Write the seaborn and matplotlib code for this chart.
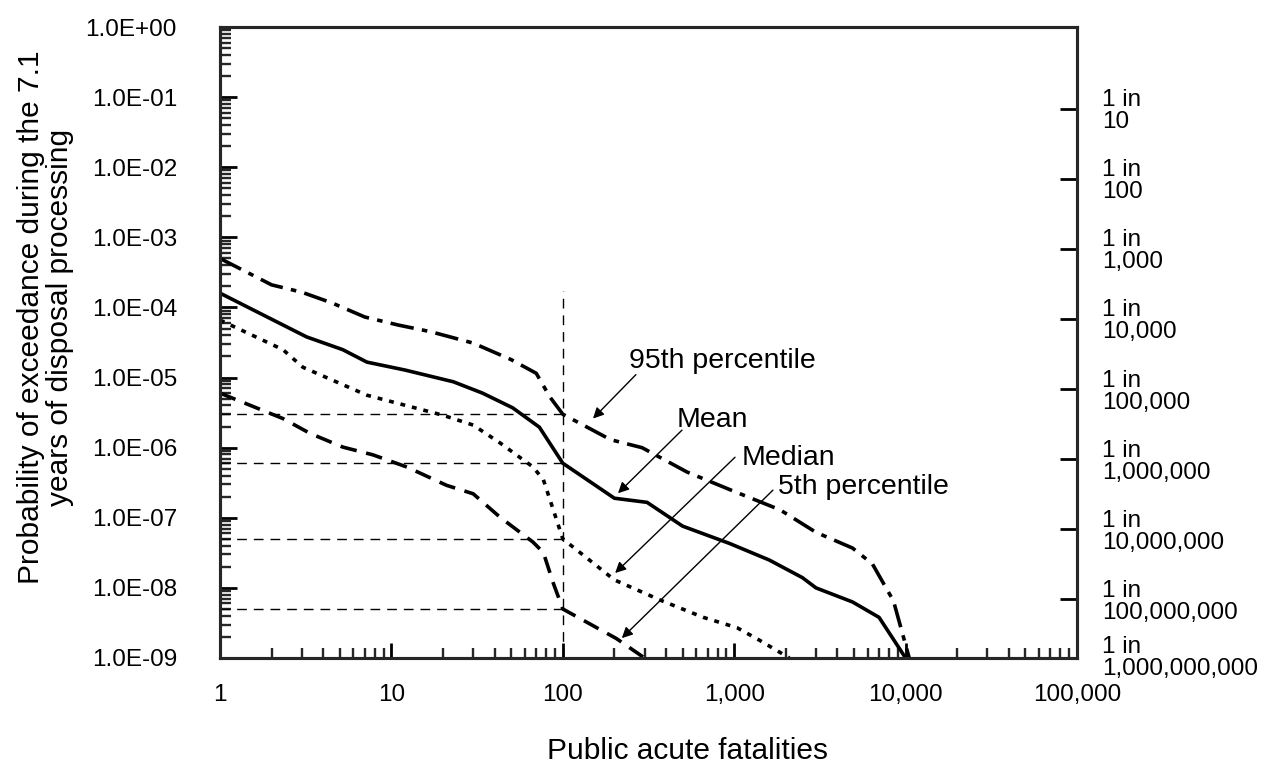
import numpy as np
import pandas as pd
import matplotlib
matplotlib.use("Agg")
import matplotlib.pyplot as plt
import matplotlib.ticker as mticker
import seaborn as sns

# ---------------- data ----------------
x95 = [1, 2, 3, 4.5, 7, 11, 17, 30, 50, 70, 84, 100, 190, 290, 530, 990, 1850, 3000, 4900, 6400, 8500, 10500]
y95 = [5e-4, 2.1e-4, 1.65e-4, 1.16e-4, 7.3e-5, 5.6e-5, 4.5e-5, 3.1e-5, 1.8e-5, 1.15e-5, 5.3e-6, 3e-6,
       1.3e-6, 1.0e-6, 4.5e-7, 2.4e-7, 1.3e-7, 6.2e-8, 3.7e-8, 2.2e-8, 6.5e-9, 1e-9]

x_mean = [1, 3.2, 5.2, 7.2, 12, 23, 34, 51, 73, 100, 200, 310, 500, 940, 1600, 2500, 3000, 4900, 7000, 10000]
y_mean = [1.6e-4, 3.8e-5, 2.5e-5, 1.66e-5, 1.28e-5, 8.7e-6, 6e-6, 3.7e-6, 1.96e-6, 6e-7, 1.9e-7, 1.66e-7,
          7.6e-8, 4.3e-8, 2.5e-8, 1.4e-8, 1e-8, 6.3e-9, 3.8e-9, 1e-9]

x_med = [1, 2.33, 3.05, 7.2, 20, 30, 43, 67, 77, 88, 100, 200, 370, 660, 1040, 1400, 2100]
y_med = [6.6e-5, 2.5e-5, 1.4e-5, 5.6e-6, 2.9e-6, 2.1e-6, 1.17e-6, 5.3e-7, 3.5e-7, 1.3e-7, 5e-8, 1.3e-8,
         6.7e-9, 3.8e-9, 2.7e-9, 1.8e-9, 1e-9]

x5 = [1, 2.33, 3.35, 5.2, 7.8, 12.3, 21, 30, 43, 67, 77, 88, 100, 205, 300]
y5 = [6e-6, 2.6e-6, 1.6e-6, 1.02e-6, 7.9e-7, 5.3e-7, 2.9e-7, 2.2e-7, 1.02e-7, 4.5e-8, 3.2e-8, 1.17e-8,
      5e-9, 1.9e-9, 1e-9]

ref_x = 100
ref_x_top = 1.7e-4
ref_levels = [3e-6, 6e-7, 5e-8, 5e-9]

xtick_vals = [1, 10, 100, 1000, 10000, 100000]
xtick_labels = ["1", "10", "100", "1,000", "10,000", "100,000"]
ytick_vals = [1e0, 1e-1, 1e-2, 1e-3, 1e-4, 1e-5, 1e-6, 1e-7, 1e-8, 1e-9]
ytick_labels = ["1.0E+00", "1.0E-01", "1.0E-02", "1.0E-03", "1.0E-04", "1.0E-05",
                "1.0E-06", "1.0E-07", "1.0E-08", "1.0E-09"]
right_vals = [1e-1, 1e-2, 1e-3, 1e-4, 1e-5, 1e-6, 1e-7, 1e-8]
right_labels = ["1 in\n10", "1 in\n100", "1 in\n1,000", "1 in\n10,000", "1 in\n100,000",
                "1 in\n1,000,000", "1 in\n10,000,000", "1 in\n100,000,000"]
right_last_label = "1 in\n1,000,000,000"

# annotations: (text, text-left-x, text-baseline-y, arrow tail, arrow tip)
ann_text = ["95th percentile", "Mean", "Median", "5th percentile"]
ann_text_xy = [(243, 1.37e-5), (464, 1.97e-6), (1110, 5.65e-7), (1800, 2.18e-7)]
ann_tail = [(267, 1.1e-5), (496, 1.78e-6), (1011, 7.3e-7), (1683, 2.48e-7)]
ann_tip = [(150, 2.6e-6), (210, 2.24e-7), (202, 1.63e-8), (221, 1.92e-9)]

# ---------------- style ----------------
sns.set_theme(style="white")
plt.rcParams["font.family"] = ["Liberation Sans", "DejaVu Sans"]
plt.rcParams["lines.scale_dashes"] = False
plt.rcParams["axes.linewidth"] = 2.2

TICK_FS = 17.5

fig = plt.figure(figsize=(12.61, 7.65), dpi=100)
ax = fig.add_axes([220 / 1261, 1 - 658 / 765, (1077 - 220) / 1261, (658 - 27) / 765])
ax.set_xscale("log")
ax.set_yscale("log")
ax.set_xlim(1, 1e5)
ax.set_ylim(1e-9, 1)

series = [
    (x95, y95, (0, (17, 6, 4, 6))),
    (x_mean, y_mean, "-"),
    (x_med, y_med, (0, (3.5, 5))),
    (x5, y5, (0, (12, 7))),
]
for xs, ys, ls in series:
    df = pd.DataFrame({"x": xs, "y": ys})
    sns.lineplot(data=df, x="x", y="y", ax=ax, color="black", lw=2.6, linestyle=ls,
                 sort=False, estimator=None, legend=False)

# reference dashed lines
ax.vlines(ref_x, 1e-9, ref_x_top, colors="black", lw=1.0, linestyles=[(0, (7, 5))])
ax.hlines(ref_levels, 1, ref_x, colors="black", lw=1.0, linestyles=[(0, (7, 5))])

# annotations
for t, txy, tail, tip in zip(ann_text, ann_text_xy, ann_tail, ann_tip):
    ax.text(txy[0], txy[1], t, fontsize=20.5, ha="left", va="baseline", color="black")
    ax.annotate("", xy=tip, xytext=tail,
                arrowprops=dict(arrowstyle="-|>", lw=1.0, color="black", mutation_scale=16,
                                shrinkA=0, shrinkB=0))

# axes ticks
ax.xaxis.set_major_locator(mticker.FixedLocator(xtick_vals))
ax.xaxis.set_major_formatter(mticker.FixedFormatter(xtick_labels))
ax.xaxis.set_minor_locator(mticker.LogLocator(base=10, subs=np.arange(2, 10), numticks=20))
ax.xaxis.set_minor_formatter(mticker.NullFormatter())
ax.yaxis.set_major_locator(mticker.FixedLocator(ytick_vals))
ax.yaxis.set_major_formatter(mticker.FixedFormatter(ytick_labels))
ax.yaxis.set_minor_locator(mticker.LogLocator(base=10, subs=np.arange(2, 10), numticks=20))
ax.yaxis.set_minor_formatter(mticker.NullFormatter())

ax.tick_params(axis="x", which="major", direction="in", length=11, width=2.0, bottom=True, top=False,
               labelsize=TICK_FS, pad=19, colors="black")
ax.tick_params(axis="x", which="minor", direction="in", length=7, width=1.7, bottom=True, top=False)
ax.tick_params(axis="y", which="major", direction="in", length=12, width=2.0, left=True, right=False,
               labelsize=TICK_FS, pad=31, colors="black")
ax.tick_params(axis="y", which="minor", direction="in", length=8, width=1.7, left=True, right=False)

for s in ax.spines.values():
    s.set_color("black")
    s.set_linewidth(2.2)

ax.set_xlabel("Public acute fatalities", fontsize=21.5, color="black")
ax.xaxis.set_label_coords(0.545, -0.125)
ax.set_ylabel("Probability of exceedance during the 7.1\nyears of disposal processing",
              fontsize=21.5, color="black", linespacing=1.05)
ax.yaxis.set_label_coords(-0.17, 0.54)

# right axis (1 in N)
ax2 = ax.twinx()
ax2.set_yscale("log")
shift = 10 ** 0.164
ax2.set_ylim(1e-9 * shift, 1 * shift)
ax2.yaxis.set_major_locator(mticker.FixedLocator(right_vals))
ax2.yaxis.set_major_formatter(mticker.FixedFormatter(right_labels))
ax2.yaxis.set_minor_locator(mticker.NullLocator())
ax2.tick_params(axis="y", which="major", direction="in", length=12, width=2.0, right=True,
                labelsize=TICK_FS, pad=18, colors="black")
for lab in ax2.get_yticklabels():
    lab.set_linespacing(1.0)
    lab.set_ha("left")
ax2.annotate(right_last_label, xy=(1, 0), xycoords="axes fraction", xytext=(18, 0),
             textcoords="offset points", ha="left", va="center", fontsize=TICK_FS,
             linespacing=1.0, annotation_clip=False, color="black")
ax2.grid(False)
ax.grid(False)

fig.savefig("out.png", dpi=100, facecolor="white")
